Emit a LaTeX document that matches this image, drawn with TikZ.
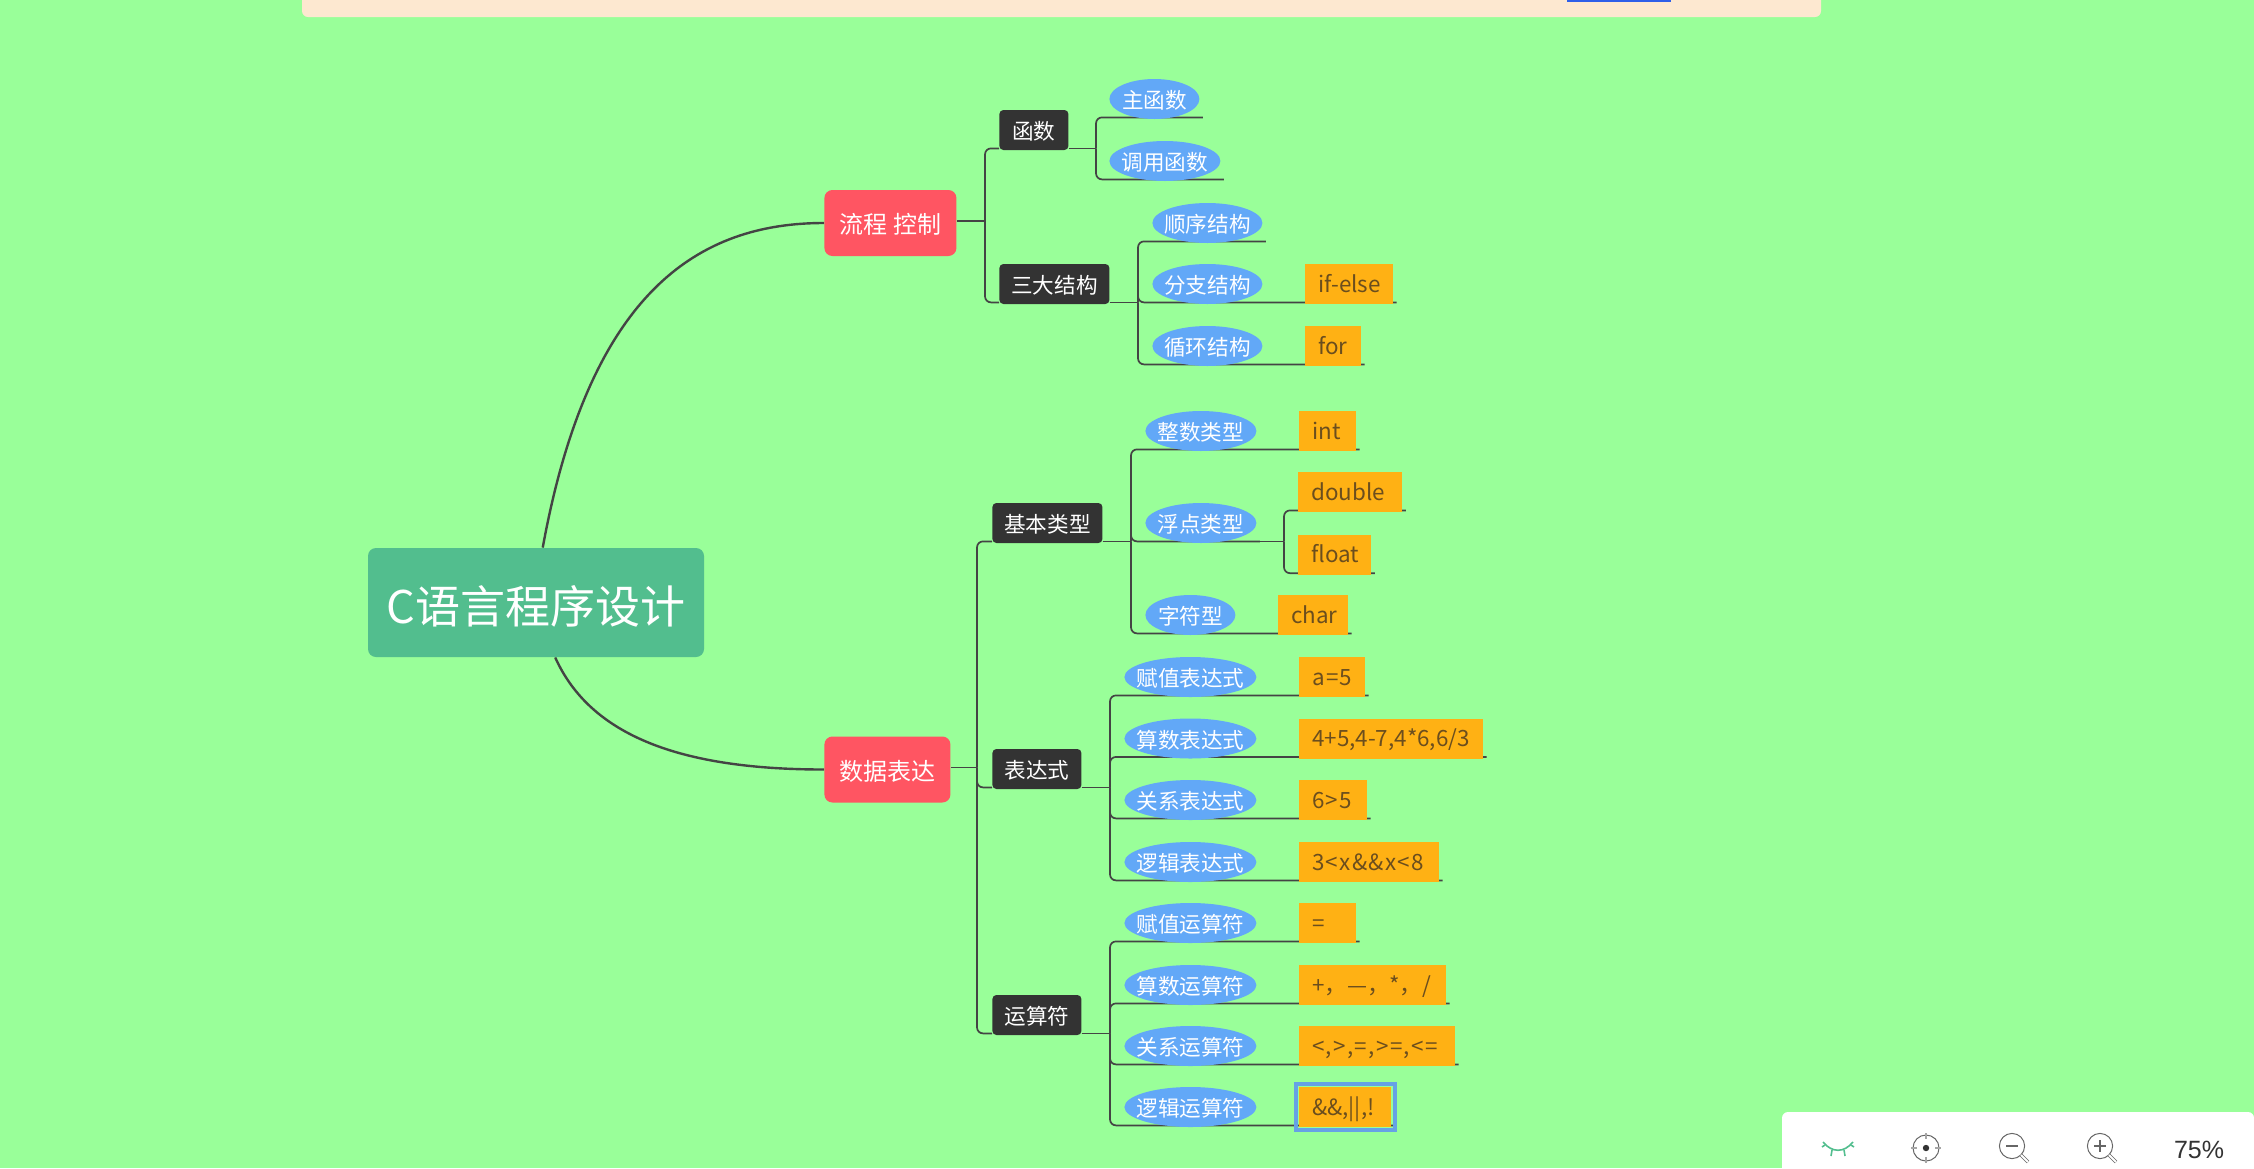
\documentclass[tikz,border=0pt]{standalone}
\usepackage{fontspec}
\setmainfont{Noto Sans CJK SC}
\newfontfamily\uifont{Liberation Sans}
\usetikzlibrary{
  positioning,
  shapes.geometric,
  fit,
  calc,
  backgrounds
}
\definecolor{mapgreen}{HTML}{99FF99}
\definecolor{rootgreen}{HTML}{52BE8E}
\definecolor{mapred}{HTML}{FF5562}
\definecolor{mapdark}{HTML}{333333}
\definecolor{mapblue}{HTML}{62A8F7}
\definecolor{maporange}{HTML}{FFB114}
\definecolor{leafink}{HTML}{6B4E1E}
\definecolor{linkgray}{HTML}{444444}
\definecolor{bannerpeach}{HTML}{FDE8D0}
\definecolor{bannerlink}{HTML}{2F5FE8}
\definecolor{icongray}{HTML}{666666}

% line from a parent along the underside of a child, over a trunk
\newcommand{\twig}[3]{
  \coordinate (from) at ($(#1.south -| #1.east)+(0,-2)$);
  \coordinate (to) at ($(#3.south -| #3.east)+(3,-2)$);
  \draw[link, sharp corners] (from) -- (from -| #2);
  \draw[link] (from -| #2) |- (to);
}

\begin{document}
\begin{tikzpicture}[
  x=0.5pt, y=-0.5pt,
  node distance=21pt,
  rootbox/.style={fill=rootgreen, rounded corners=4pt, text=white, inner sep=0pt,
    minimum width=168pt, minimum height=54.5pt, text height=24pt, text depth=3pt,
    font=\fontsize{22.5}{26}\selectfont},
  branch/.style={fill=mapred, rounded corners=4pt, text=white, inner sep=0pt, anchor=west,
    minimum height=33pt, text height=13.5pt, text depth=2.9pt,
    font=\fontsize{12}{14}\selectfont},
  topic/.style={fill=mapdark, rounded corners=2pt, text=white, inner sep=0pt, anchor=west,
    minimum height=20pt, text height=12pt, text depth=2.4pt,
    font=\fontsize{10.8}{13}\selectfont},
  sub/.style={ellipse, fill=mapblue, text=white, inner xsep=-7pt, inner ysep=-1pt, anchor=west,
    minimum height=20pt, text height=12pt, text depth=2.4pt,
    font=\fontsize{10.8}{13}\selectfont},
  leaf/.style={fill=maporange, text=leafink, inner xsep=6.5pt, inner ysep=0pt, align=left,
    text width=#1, minimum height=20pt, text height=10.5pt, text depth=2.5pt,
    font=\fontsize{11.2}{13}\selectfont},
  spaced/.style={font=\fontsize{11.2}{13}\selectfont\addfontfeature{LetterSpace=6}},
  link/.style={draw=linkgray, line width=0.85pt, rounded corners=3pt},
  rootlink/.style={draw=linkgray, line width=1.2pt},
  tick/.style={draw=#1, line width=0.6pt}
]

  \useasboundingbox (0,0) rectangle (2254,1168);

  % Centre and main branches
  \node[rootbox] (root) at (536,602.5) {C语言程序设计};
  \node[branch, minimum width=66pt] (liucheng) at (824,223) {流程 控制};
  \node[branch, minimum width=63pt] (shuju) at (824,769.5) {数据表达};

  % Upper half
  \node[topic, minimum width=34.5pt] (hanshu) at (999,130) {函数};
  \node[topic, minimum width=55pt] (sanda) at (999,284) {三大结构};
  \node[sub, minimum width=45pt] (zhu) at (1109,99) {主函数};
  \node[sub, minimum width=55.5pt] (diaoyong) at (1109,161) {调用函数};
  \node[sub, minimum width=55pt] (shunxu) at (1152,223) {顺序结构};
  \node[sub, minimum width=55pt] (fenzhi) at (1152,284) {分支结构};
  \node[sub, minimum width=55pt] (xunhuan) at (1152,346) {循环结构};
  \node[leaf=31pt, right=of fenzhi] (ifelse) {\mbox{if-else}};
  \node[leaf=15pt, right=of xunhuan] (forloop) {for};

  % Basic types
  \node[topic, minimum width=55pt] (jiben) at (992,523) {基本类型};
  \node[sub, minimum width=55.5pt] (zhengshu) at (1145,431) {整数类型};
  \node[sub, minimum width=55.5pt] (fudian) at (1145,523) {浮点类型};
  \node[sub, minimum width=45pt] (zifu) at (1145,615) {字符型};
  \node[leaf=15.5pt, right=of zhengshu] (intleaf) {int};
  \node[leaf=39pt, anchor=west] (doubleleaf) at (1298,492) {double};
  \node[leaf=23.5pt, below=11pt of doubleleaf.south west, anchor=north west] (floatleaf) {float};
  \node[leaf=22pt, right=of zifu] (charleaf) {char};

  % Expressions
  \node[topic, minimum width=44.5pt] (biaoda) at (992,769) {表达式};
  \node[sub, minimum width=66pt] (fuzhi) at (1124,677) {赋值表达式};
  \node[sub, minimum width=66pt] (suanshu) at (1124,738.5) {算数表达式};
  \node[sub, minimum width=66pt] (guanxi) at (1124,800) {关系表达式};
  \node[sub, minimum width=66pt] (luoji) at (1124,862) {逻辑表达式};
  \node[leaf=20pt, spaced, right=of fuzhi] (fuzhileaf) {a=5};
  \node[leaf=79pt, right=of suanshu] (suanshuleaf) {4+5,4-7,4*6,6/3};
  \node[leaf=21pt, spaced, right=of guanxi] (guanxileaf) {6>5};
  \node[leaf=57pt, spaced, right=of luoji] (luojileaf) {3<x\&\&x<8};

  % Operators
  \node[topic, minimum width=44.5pt] (yunsuan) at (992,1015) {运算符};
  \node[sub, minimum width=66pt] (fuzhiyun) at (1124,923) {赋值运算符};
  \node[sub, minimum width=66pt] (suanyun) at (1124,985) {算数运算符};
  \node[sub, minimum width=66pt] (guanyun) at (1124,1046) {关系运算符};
  \node[sub, minimum width=66pt] (luoyun) at (1124,1107) {逻辑运算符};
  \node[leaf=15.5pt, right=of fuzhiyun] (fuzhiyunleaf) {=};
  \node[leaf=60.5pt, right=of suanyun] (suanyunleaf) {+，—，*，/};
  \node[leaf=65pt, spaced, right=of guanyun] (guanyunleaf) {<,>,=,>=,<=};
  \node[leaf=33pt, right=of luoyun] (luoyunleaf) {\&\&,||,!};
  \node[fit=(luoyunleaf), draw=mapblue!85!gray, line width=2pt, inner sep=1.5pt] (picked) {};

  % Trunks
  \coordinate (trliu) at (985,0);
  \coordinate (trhan) at (1096,0);
  \coordinate (trsan) at (1138,0);
  \coordinate (trshu) at (977,0);
  \coordinate (trji) at (1131,0);
  \coordinate (trfu) at (1284,0);
  \coordinate (trbiao) at (1110,0);

  \begin{scope}[on background layer]
    \fill[mapgreen] (0,0) rectangle (2254,1168);

    % Root curves
    \draw[rootlink] ($(root.north west)!0.52!(root.north east)$)
      .. controls +(47,-258) and +(-124,0) .. (liucheng.west);
    \draw[rootlink] ($(root.south west)!0.557!(root.south east)$)
      .. controls +(35,78) and +(-144,0) .. (shuju.west);

    % Branch to topic
    \draw[link] ([yshift=1pt]liucheng.east) -- ([yshift=1pt]liucheng.east -| trliu);
    \draw[link] ([yshift=1pt]liucheng.east -| trliu) |- ($(hanshu.south west)+(0,-2)$);
    \draw[link] ([yshift=1pt]liucheng.east -| trliu) |- ($(sanda.south west)+(0,-2)$);
    \draw[link] ([yshift=1pt]shuju.east) -- ([yshift=1pt]shuju.east -| trshu);
    \draw[link] ([yshift=1pt]shuju.east -| trshu) |- ($(jiben.south west)+(0,-2)$);
    \draw[link] ([yshift=1pt]shuju.east -| trshu) |- ($(biaoda.south west)+(0,-2)$);
    \draw[link] ([yshift=1pt]shuju.east -| trshu) |- ($(yunsuan.south west)+(0,-2)$);

    % Topic to sub and leaf
    \twig{hanshu}{trhan}{zhu}
    \twig{hanshu}{trhan}{diaoyong}
    \twig{sanda}{trsan}{shunxu}
    \twig{sanda}{trsan}{ifelse}
    \twig{sanda}{trsan}{forloop}
    \twig{jiben}{trji}{intleaf}
    \twig{jiben}{trji}{fudian}
    \twig{jiben}{trji}{charleaf}
    \twig{fudian}{trfu}{doubleleaf}
    \twig{fudian}{trfu}{floatleaf}
    \twig{biaoda}{trbiao}{fuzhileaf}
    \twig{biaoda}{trbiao}{suanshuleaf}
    \twig{biaoda}{trbiao}{guanxileaf}
    \twig{biaoda}{trbiao}{luojileaf}
    \twig{yunsuan}{trbiao}{fuzhiyunleaf}
    \twig{yunsuan}{trbiao}{suanyunleaf}
    \twig{yunsuan}{trbiao}{guanyunleaf}
    \twig{yunsuan}{trbiao}{luoyunleaf}
  \end{scope}

  % Strip at the top of the window
  \fill[bannerpeach] (302,0) [rounded corners=3pt] -- (302,17) -- (1821,17) [sharp corners] -- (1821,0) -- cycle;
  \fill[bannerlink] (1567,0) rectangle (1671,2);

  % Toolbar
  \fill[white] (2254,1168) -- (1782,1168) [rounded corners=3pt] -- (1782,1112) -- (2254,1112) [sharp corners] -- cycle;
  \draw[rootgreen, line width=0.8pt] (1823,1142) .. controls (1832,1153) and (1844,1153) .. (1853,1142);
  \draw[rootgreen, line width=0.8pt] (1825,1145) -- (1822,1147) (1832,1150) -- (1831,1156)
    (1844,1150) -- (1845,1156) (1851,1145) -- (1854,1147);
  \draw[icongray, line width=0.5pt] (1926,1148) circle[radius=6.5pt];
  \fill[mapdark] (1926,1148) circle[radius=1.6pt];
  \draw[tick=gray!70] (1911,1148) -- (1917,1148) (1935,1148) -- (1941,1148)
    (1926,1133) -- (1926,1139) (1926,1157) -- (1926,1163);
  \draw[icongray, line width=0.5pt] (2012,1146) circle[radius=6.3pt];
  \draw[tick=icongray] (2006,1146) -- (2018,1146);
  \draw[icongray, line width=0.4pt, double=white, double distance=0.9pt] (2021,1155) -- (2028,1162);
  \draw[icongray, line width=0.5pt] (2100,1146) circle[radius=6.3pt];
  \draw[tick=icongray] (2094,1146) -- (2106,1146) (2100,1140) -- (2100,1152);
  \draw[icongray, line width=0.4pt, double=white, double distance=0.9pt] (2109,1155) -- (2116,1162);
  \node[font=\uifont\fontsize{12.5}{15}\selectfont, text=mapdark, inner sep=0pt] (zoomlevel) at (2199,1150) {75\%};

\end{tikzpicture}
\end{document}
